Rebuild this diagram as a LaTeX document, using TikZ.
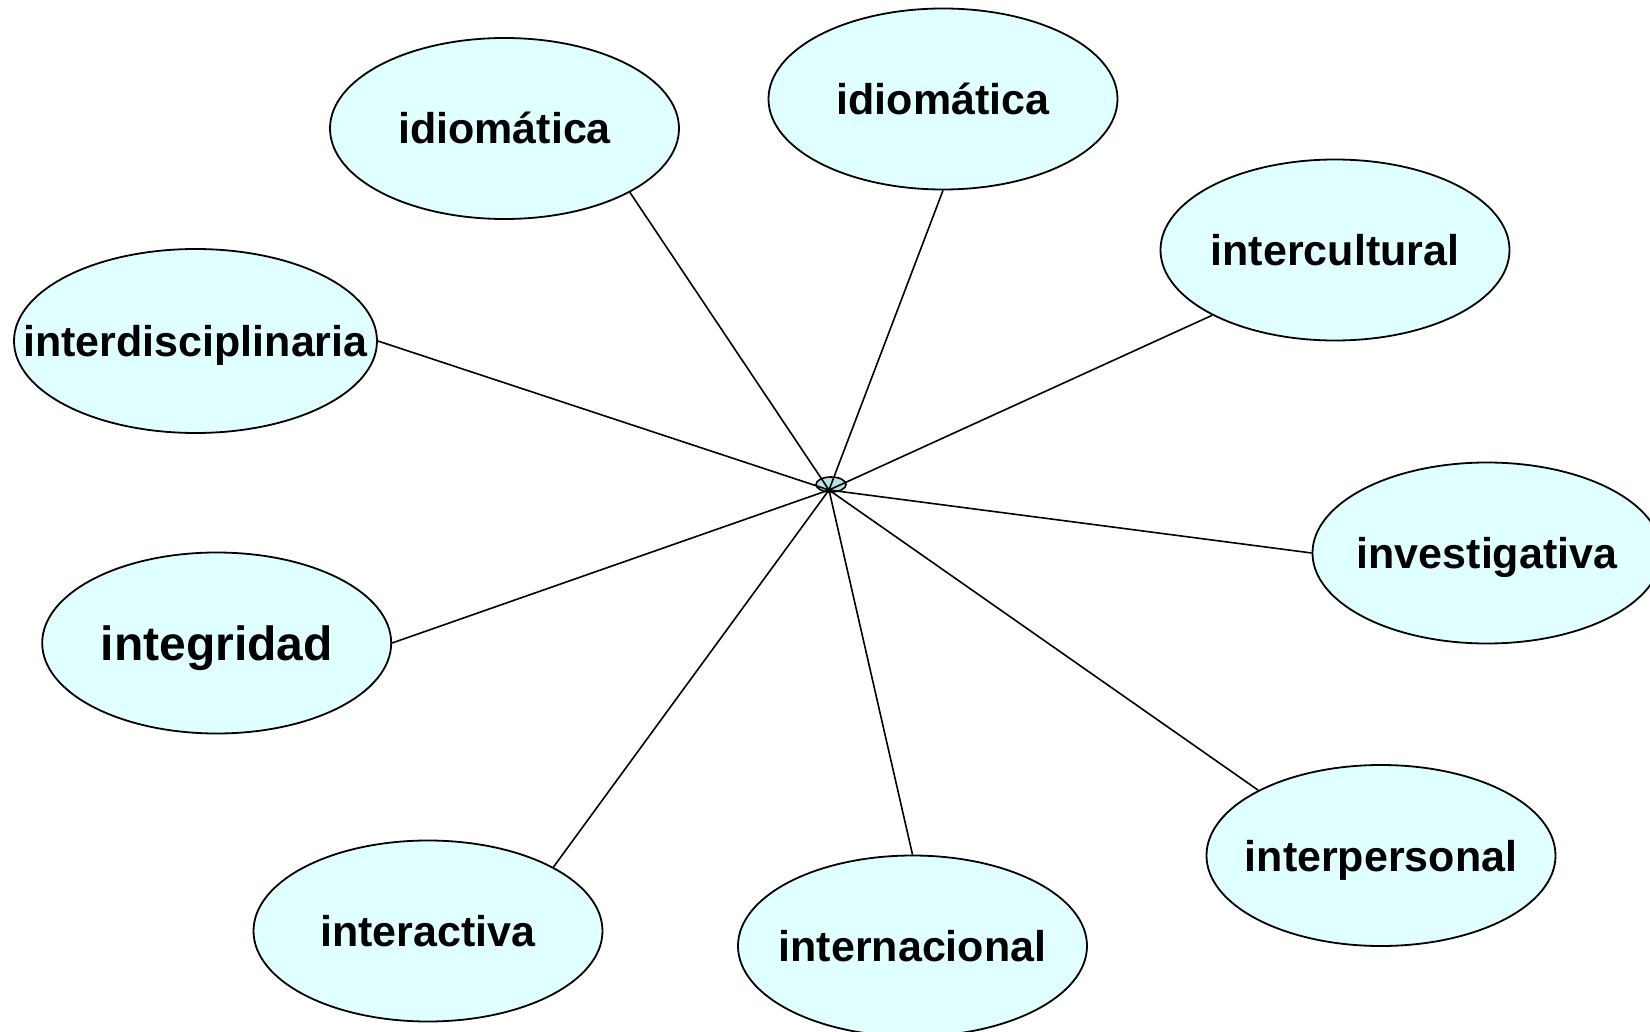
\documentclass[tikz,border=0pt]{standalone}
\usepackage{fontspec}
\setmainfont{Liberation Sans}
\usetikzlibrary{shapes.geometric}
\definecolor{bubble}{HTML}{E0FFFF}
\definecolor{hubfill}{HTML}{B4E2E6}
\newcommand{\zw}[1]{\makebox[0pt]{#1}}
\tikzset{
  bub/.style={ellipse, draw=black, line width=1.8pt, fill=bubble,
    minimum width=349pt, minimum height=181pt, inner sep=0pt,
    text height=31pt, text depth=0pt,
    font=\fontsize{43}{50}\selectfont\bfseries},
  bigbub/.style={bub, text height=34.5pt, font=\fontsize{48}{56}\selectfont\bfseries},
  spoke/.style={draw=black, line width=1.6pt}
}
\begin{document}
\begin{tikzpicture}[x=1pt,y=-1pt]
\useasboundingbox (0,0) rectangle (1650,1032);
\node[ellipse, draw=black, line width=1.6pt, fill=hubfill, minimum width=30pt, minimum height=15pt, inner sep=0pt] (hub) at (831,484.5) {};
\coordinate (c) at (829,490);
\node[bub] (n1) at (504.5,128.5) {\zw{idiomática}};
\node[bub] (n2) at (943,99) {\zw{idiomática}};
\node[bub] (n3) at (1335,250) {\zw{intercultural}};
\node[bub, minimum width=363pt, minimum height=184pt] (n4) at (195.5,341) {\zw{interdisciplinaria}};
\node[bub] (n5) at (1487,553) {\zw{investigativa}};
\node[bigbub] (n6) at (216.7,643) {\zw{integridad}};
\node[bub] (n7) at (1381,855.5) {\zw{interpersonal}};
\node[bub] (n8) at (428,931) {\zw{interactiva}};
\node[bub] (n9) at (912.5,946) {\zw{internacional}};
\draw[spoke] (c) -- (n1.-27.4);
\draw[spoke] (c) -- (n2.-90);
\draw[spoke] (c) -- (n3.208);
\draw[spoke] (c) -- (n4.0);
\draw[spoke] (c) -- (n5.180);
\draw[spoke] (c) -- (n6.0);
\draw[spoke] (c) -- (n7.152.3);
\draw[spoke] (c) -- (n9.90);
\draw[spoke] (c) -- (n8.27.5);
\end{tikzpicture}
\end{document}
